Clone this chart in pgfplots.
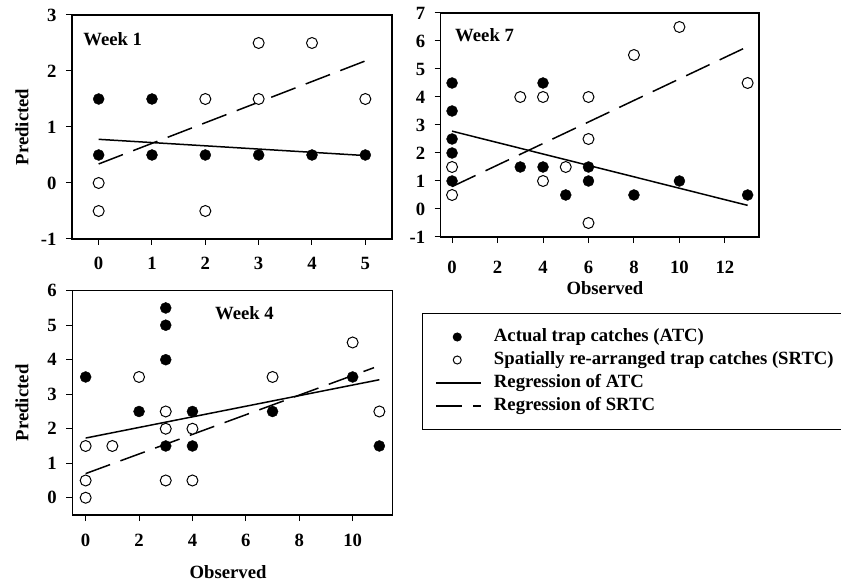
\documentclass[border=0pt]{standalone}
\usepackage{pgfplots}
\pgfplotsset{compat=1.18}
\usepackage{fontspec}
\setmainfont{Liberation Serif}
\newcommand{\ff}{\bfseries\fontsize{18.7}{22}\selectfont}
\begin{document}
\begin{tikzpicture}
\useasboundingbox (0,0) rectangle (841pt,582pt);
\pgfplotsset{
 every axis/.append style={
  scale only axis, anchor=south west,
  axis line style={line width=1.2pt},
  tick align=outside, tick pos=left,
  major tick length=6pt,
  major tick style={black, line width=1pt},
  /pgf/number format/assume math mode=true,
  tick label style={font=\ff},
  yticklabel style={xshift=-6pt},
  label style={font=\ff},
  clip=false,
 },
 atc/.style={only marks, mark=*, mark size=5.5pt, draw=black, fill=black,
   legend image code/.code={\path (0pt,0pt) (45pt,0pt); \draw[##1, mark size=4pt] plot coordinates {(21pt,0pt)};}},
 srtc/.style={only marks, mark=*, mark size=5.5pt, draw=black, fill=white, mark options={line width=1pt, fill=white},
   legend image code/.code={\path (0pt,0pt) (45pt,0pt); \draw[##1, mark size=4pt] plot coordinates {(21pt,0pt)};}},
 atcl/.style={black, line width=1.5pt, no marks,
   legend image code/.code={\draw[##1] (0pt,0pt) -- (45pt,0pt);}},
 srtcl/.style={black, line width=1.5pt, no marks, dash pattern=on 26pt off 11pt,
   legend image code/.code={\draw[##1] (0pt,0pt) -- (45pt,0pt);}},
}

% Week 1
\begin{axis}[at={(72pt,343pt)}, width=320pt, height=224pt,
  xmin=-0.5, xmax=5.5, ymin=-1, ymax=3,
  xtick={0,1,2,3,4,5}, ytick={-1,0,1,2,3},
  xticklabel style={yshift=-9pt},
  ylabel={Predicted}, ylabel style={at={(axis description cs:-0.156,0.5)}, anchor=center}]
\addplot[atcl] coordinates {(0,0.78) (5,0.49)};
\addplot[srtcl] coordinates {(0,0.34) (5,2.18)};
\addplot[atc] coordinates {(0,1.5) (1,1.5) (0,0.5) (1,0.5) (2,0.5) (3,0.5) (4,0.5) (5,0.5)};
\addplot[srtc] coordinates {(0,0) (0,-0.5) (2,1.5) (2,-0.5) (3,2.5) (3,1.5) (4,2.5) (5,1.5)};
\node[anchor=west, inner sep=0pt, font=\ff] at (rel axis cs:0.035,0.893) {Week 1};
\end{axis}

% Week 7
\begin{axis}[at={(440.7pt,345pt)}, width=318.3pt, height=224pt,
  xmin=-0.5, xmax=13.5, ymin=-1, ymax=7,
  xtick={0,2,4,6,8,10,12}, ytick={-1,0,1,2,3,4,5,6,7},
  xticklabel style={yshift=-15pt},
  xlabel={Observed}, xlabel style={at={(axis description cs:0.516,-0.228)}, anchor=center}]
\addplot[atcl] coordinates {(0,2.78) (13,0.13)};
\addplot[srtcl] coordinates {(0,0.8) (13,5.8)};
\addplot[atc] coordinates {(0,4.5) (0,3.5) (0,2.5) (0,2) (0,1) (3,1.5) (4,4.5) (4,1.5) (5,0.5) (6,1.5) (6,1) (8,0.5) (10,1) (13,0.5)};
\addplot[srtc] coordinates {(0,1.5) (0,0.5) (3,4) (4,4) (4,1) (5,1.5) (6,4) (6,2.5) (6,-0.5) (8,5.5) (10,6.5) (13,4.5)};
\node[anchor=west, inner sep=0pt, font=\ff] at (rel axis cs:0.045,0.902) {Week 7};
\end{axis}

% Week 4
\begin{axis}[at={(72.3pt,67pt)}, width=320.4pt, height=224.3pt,
  xmin=-0.5, xmax=11.5, ymin=-0.5, ymax=6,
  xtick={0,2,4,6,8,10}, ytick={0,1,2,3,4,5,6},
  xticklabel style={yshift=-10pt},
  xlabel={Observed}, xlabel style={at={(axis description cs:0.486,-0.254)}, anchor=center},
  ylabel={Predicted}, ylabel style={at={(axis description cs:-0.157,0.5)}, anchor=center},
  legend cell align=left,
  legend style={at={(axis description cs:1.0914,0.9006)}, anchor=north west,
    draw=black, line width=1pt, font=\ff, inner xsep=13pt, inner ysep=14pt,
    nodes={inner sep=0pt, text height=14pt, text depth=5pt},
    row sep=4pt, column sep=12pt}]
\addplot[atc] coordinates {(0,3.5) (2,2.5) (3,5.5) (3,5) (3,4) (3,1.5) (4,2.5) (4,1.5) (7,2.5) (10,3.5) (11,1.5)};
\addlegendentry{Actual trap catches (ATC)}
\addplot[srtc] coordinates {(0,1.5) (0,0.5) (0,0) (1,1.5) (2,3.5) (3,2.5) (3,2) (3,0.5) (4,2) (4,0.5) (7,3.5) (10,4.5) (11,2.5)};
\addlegendentry{Spatially re-arranged trap catches (SRTC)}
\addplot[atcl] coordinates {(0,1.73) (11,3.42)};
\addlegendentry{Regression of ATC}
\addplot[srtcl] coordinates {(0,0.7) (10.8,3.77)};
\addlegendentry{Regression of SRTC}
\node[anchor=west, inner sep=0pt, font=\ff] at (rel axis cs:0.445,0.899) {Week 4};
\end{axis}
\end{tikzpicture}
\end{document}
